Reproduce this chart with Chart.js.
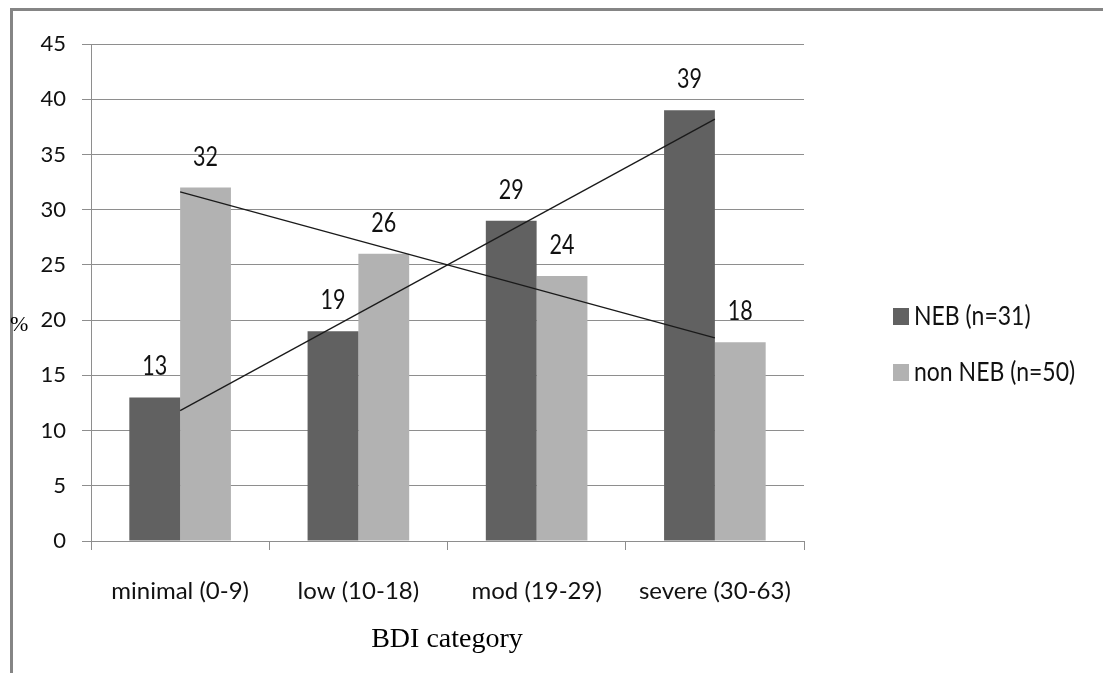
<!DOCTYPE html>
<html>
<head>
<meta charset="utf-8">
<script src="https://cdn.jsdelivr.net/npm/chart.js@4/dist/chart.umd.min.js"></script>
<style>
  html, body { margin: 0; padding: 0; background: #fff; }
  #wrap { width: 1103px; height: 673px; position: relative; }
</style>
</head>
<body>
<div id="wrap"><canvas id="c" width="1103" height="673"></canvas></div>
<script>
// BDI categories and percentages per group
const categories = ['minimal (0-9)', 'low (10-18)', 'mod (19-29)', 'severe (30-63)'];
const nebValues = [13, 19, 29, 39];
const nonNebValues = [32, 26, 24, 18];
// Linear trend lines: values at the first and last category
const nebTrend = [11.8, null, null, 38.2];
const nonNebTrend = [31.6, null, null, 18.4];
const yTicks = [0, 5, 10, 15, 20, 25, 30, 35, 40, 45];

const seriesNames = ['NEB (n=31)', 'non NEB (n=50)'];
const DARK = '#616161';
const LIGHT = '#b2b2b2';
const FONT = 'Lato, "Open Sans", sans-serif';
const GRID = '#8e8e8e';

// text drawn with a slight vertical stretch
function tallText(ctx, text, x, y, size, sy, align) {
  ctx.save();
  ctx.translate(x, y);
  ctx.scale(1, sy);
  ctx.font = size + 'px ' + FONT;
  ctx.textAlign = align;
  ctx.textBaseline = 'alphabetic';
  ctx.fillText(text, 0, 0);
  ctx.restore();
}

const extras = {
  id: 'extras',
  afterDatasetsDraw(chart) {
    const ctx = chart.ctx;
    ctx.save();
    // value labels above bars
    ctx.fillStyle = '#111';
    [0, 1].forEach(di => {
      const meta = chart.getDatasetMeta(di);
      meta.data.forEach((bar, i) => {
        const v = chart.data.datasets[di].data[i];
        tallText(ctx, String(v), bar.x, bar.y - 22, 21.5, 1.25, 'center');
      });
    });
    ctx.restore();
  },
  afterDraw(chart) {
    const ctx = chart.ctx;
    ctx.save();
    // outer frame
    ctx.strokeStyle = '#858585';
    ctx.lineWidth = 3;
    ctx.beginPath();
    ctx.moveTo(11.5, 673);
    ctx.lineTo(11.5, 9.5);
    ctx.lineTo(1103, 9.5);
    ctx.stroke();

    // axis titles
    ctx.fillStyle = '#000';
    ctx.textBaseline = 'alphabetic';
    ctx.font = '22px "Liberation Serif", "Times New Roman", serif';
    ctx.textAlign = 'left';
    ctx.fillText('%', 10, 331);
    ctx.font = '28px "Liberation Serif", "Times New Roman", serif';
    ctx.textAlign = 'center';
    ctx.fillText('BDI category', 447, 647);

    // legend
    const colors = [DARK, LIGHT];
    const baselines = [325, 381];
    seriesNames.forEach((name, i) => {
      ctx.fillStyle = colors[i];
      ctx.fillRect(893, baselines[i] - 17, 16, 17);
      ctx.fillStyle = '#111';
      tallText(ctx, name, 914, baselines[i], 23, 1.2, 'left');
    });
    ctx.restore();
  }
};

new Chart(document.getElementById('c'), {
  data: {
    labels: categories,
    datasets: [
      { type: 'bar', label: seriesNames[0], data: nebValues, backgroundColor: DARK,
        categoryPercentage: 0.57, barPercentage: 1.0, order: 2 },
      { type: 'bar', label: seriesNames[1], data: nonNebValues, backgroundColor: LIGHT,
        categoryPercentage: 0.57, barPercentage: 1.0, order: 2 },
      { type: 'line', label: 'NEB trend', data: nebTrend, borderColor: '#1a1a1a', borderWidth: 1.3,
        pointRadius: 0, spanGaps: true, fill: false, order: 1 },
      { type: 'line', label: 'non NEB trend', data: nonNebTrend, borderColor: '#1a1a1a', borderWidth: 1.3,
        pointRadius: 0, spanGaps: true, fill: false, order: 1 }
    ]
  },
  options: {
    responsive: false,
    animation: false,
    devicePixelRatio: 1,
    layout: { padding: { left: 0, top: 44, right: 299, bottom: 0 } },
    plugins: { legend: { display: false }, tooltip: { enabled: false } },
    scales: {
      x: {
        offset: true,
        grid: { drawOnChartArea: false, drawTicks: true, tickLength: 9, color: GRID, offset: true },
        border: { color: GRID },
        ticks: { color: '#111', font: { family: FONT, size: 24 }, padding: 27, maxRotation: 0 },
        afterFit(s) { s.height = 132; }
      },
      y: {
        min: 0, max: 45,
        afterBuildTicks(s) { s.ticks = yTicks.map(v => ({ value: v })); },
        grid: { color: GRID, tickLength: 9 },
        border: { color: GRID },
        ticks: { color: '#111', font: { family: FONT, size: 22 }, padding: 16 },
        afterFit(s) { s.width = 91; }
      }
    }
  },
  plugins: [extras]
});
</script>
</body>
</html>
